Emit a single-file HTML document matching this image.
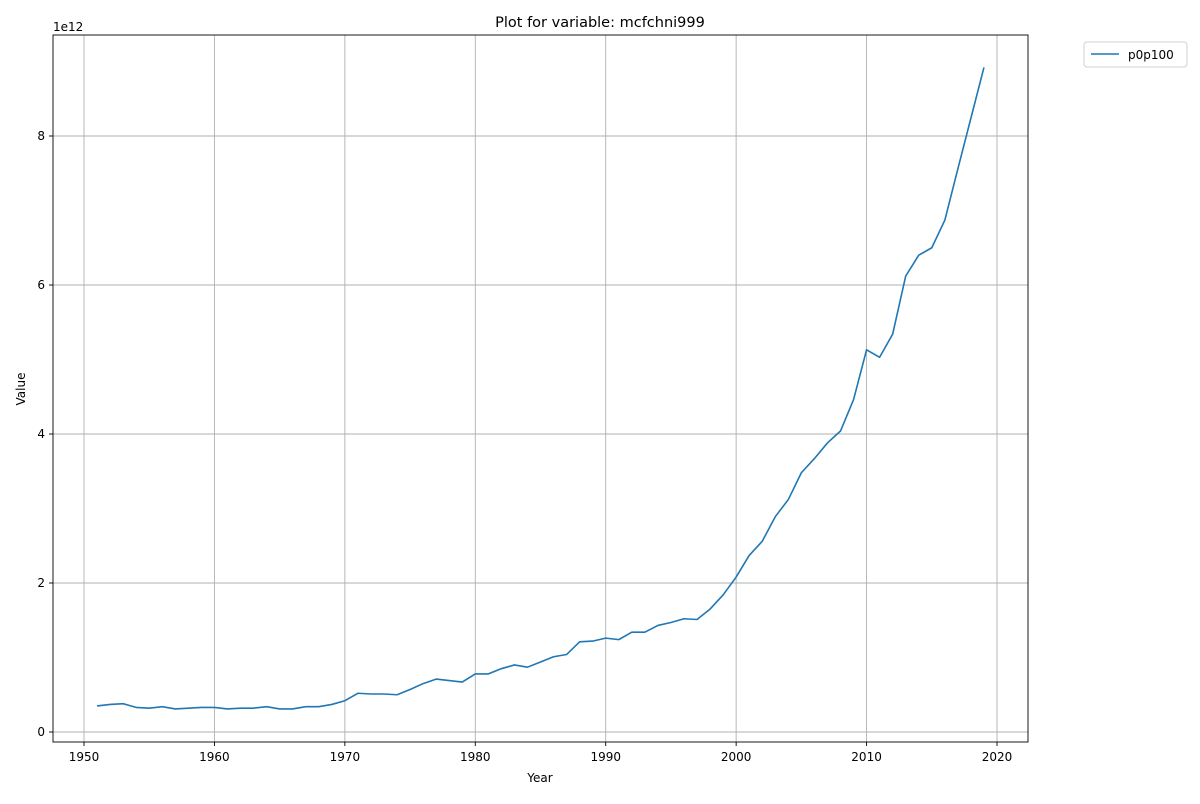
<!DOCTYPE html>
<html><head><meta charset="utf-8"><style>
body{margin:0;background:#fff;font-family:"DejaVu Sans","Liberation Sans",sans-serif;}
svg text{font-family:"DejaVu Sans","Liberation Sans",sans-serif;}
</style></head><body>
<svg id="chart" width="1200" height="800" xmlns="http://www.w3.org/2000/svg"></svg>
<script>
const years = [];
for (let y = 1951; y <= 2019; y++) years.push(y);
const values = [0.35,0.37,0.38,0.33,0.32,0.34,0.31,0.32,0.33,0.33,0.31,0.32,0.32,0.34,0.31,0.31,0.34,0.34,0.37,0.42,
0.52,0.51,0.51,0.50,0.57,0.65,0.71,0.69,0.67,0.78,0.78,0.85,0.90,0.87,0.94,1.01,1.04,1.21,1.22,1.26,
1.24,1.34,1.34,1.43,1.47,1.52,1.51,1.65,1.84,2.08,2.37,2.56,2.89,3.12,3.48,3.67,3.88,4.04,4.46,5.13,
5.03,5.34,6.12,6.40,6.50,6.87,7.56,8.24,8.92];
const xTicks = [1950,1960,1970,1980,1990,2000,2010,2020];
const yTicks = [0,2,4,6,8];

const NS = "http://www.w3.org/2000/svg";
const svg = document.getElementById("chart");
const L=53,R=1028,T=35,B=742;
const xs = v => 84 + (v-1950)*(997-84)/70;
const ys = v => 732 - v*74.5;
function mk(tag, attrs, text){const e=document.createElementNS(NS,tag);for(const k in attrs)e.setAttribute(k,attrs[k]);if(text!==undefined)e.textContent=text;svg.appendChild(e);return e;}

let e;
e = mk("text",{x:600,y:27,"text-anchor":"middle","font-size":"14.5",fill:"#000"},"Plot for variable: mcfchni999");



xTicks.forEach(t=>{
  const x=xs(t);
  e=mk("line",{x1:x,x2:x,y1:T,y2:B,stroke:"#b0b0b0","stroke-width":0.9});
  
  
  mk("line",{x1:x,x2:x,y1:B,y2:B+4,stroke:"#000","stroke-width":0.9});
  e=mk("text",{x:x,y:B+19,"text-anchor":"middle","font-size":"12",fill:"#000"},t);
  
  
});
yTicks.forEach(t=>{
  const y=ys(t);
  e=mk("line",{x1:L,x2:R,y1:y,y2:y,stroke:"#b0b0b0","stroke-width":0.9});
  
  
  mk("line",{x1:L-4,x2:L,y1:y,y2:y,stroke:"#000","stroke-width":0.9});
  e=mk("text",{x:L-8,y:y+4,"text-anchor":"end","font-size":"12",fill:"#000"},t);
  
  
});
e=mk("text",{x:L,y:31,"font-size":"12",fill:"#000"},"1e12");



e=mk("rect",{x:L,y:T,width:R-L,height:B-T,fill:"none",stroke:"#000","stroke-width":0.9});



e=mk("polyline",{points:years.map((y,i)=>xs(y)+","+ys(values[i])).join(" "),fill:"none",stroke:"#1f77b4","stroke-width":1.6,"stroke-linejoin":"round"});



e=mk("text",{x:540,y:782,"text-anchor":"middle","font-size":"12",fill:"#000"},"Year");


e=mk("text",{x:25,y:389,"text-anchor":"middle","font-size":"12",fill:"#000",transform:"rotate(-90 25 389)"},"Value");



e=mk("rect",{x:1084,y:42,width:103,height:25,rx:3,fill:"#fff",stroke:"#d0d0d0","stroke-width":1});


e=mk("line",{x1:1091,x2:1119,y1:54,y2:54,stroke:"#1f77b4","stroke-width":1.6});


e=mk("text",{x:1128,y:59,"font-size":"12",fill:"#000"},"p0p100");


</script>
</body></html>
